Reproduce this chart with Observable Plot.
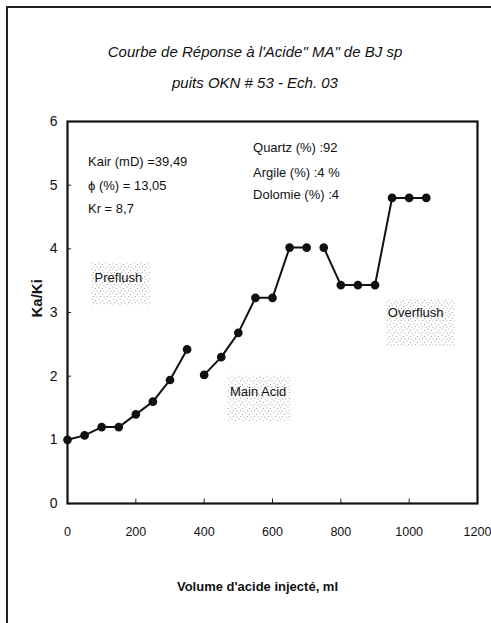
<!DOCTYPE html>
<html>
<head>
<meta charset="utf-8">
<script src="https://cdn.jsdelivr.net/npm/d3@7"></script>
<script src="https://cdn.jsdelivr.net/npm/@observablehq/plot@0.6"></script>
<style>
  html, body { margin: 0; padding: 0; background: #fff; overflow: hidden; }
  #page { position: relative; width: 491px; height: 623px; overflow: hidden; }
  #border { position: absolute; left: 6px; top: 6px; width: 520px; height: 660px; border: 2px solid #222; box-sizing: border-box; }
  #title { position: absolute; left: 0; top: 36px; width: 510px; text-align: center;
           font-family: "Liberation Sans", Arial, sans-serif;
           font-style: italic; font-size: 15px; line-height: 31px; color: #111; }
  #chart { position: absolute; left: 0; top: 100px; }
</style>
</head>
<body>
<div id="page">
  <div id="border"></div>
  <div id="title">Courbe de Réponse à l'Acide" MA" de BJ sp<br>puits OKN # 53 - Ech. 03</div>
  <div id="chart"></div>
</div>
<script>
// Data
const preflushVol = [0, 50, 100, 150, 200, 250, 300, 350];
const preflushKaKi = [1.0, 1.07, 1.2, 1.2, 1.4, 1.6, 1.94, 2.42];
const mainVol = [400, 450, 500, 550, 600, 650, 700];
const mainKaKi = [2.02, 2.3, 2.68, 3.23, 3.23, 4.02, 4.02];
const overVol = [750, 800, 850, 900, 950, 1000, 1050];
const overKaKi = [4.02, 3.43, 3.43, 3.43, 4.8, 4.8, 4.8];
const xTicks = [0, 200, 400, 600, 800, 1000, 1200];
const yTicks = [0, 1, 2, 3, 4, 5, 6];

const infoLeft = ["Kair (mD) =39,49", "\u03D5 (%) = 13,05", "Kr = 8,7"];
const infoLeftY = [5.36, 4.99, 4.63];
const infoRight = ["Quartz (%) :92", "Argile (%) :4 %", "Dolomie (%) :4"];
const infoRightY = [5.58, 5.2, 4.85];
const stages = ["Preflush", "Main Acid", "Overflush"];
const stageX = [149, 558, 1019];
const stageY = [3.54, 1.75, 2.99];
// stipple boxes [x1, x2, y1, y2] around stage labels
const boxX1 = [70, 470, 935];
const boxX2 = [242, 656, 1135];
const boxY1 = [3.11, 1.29, 2.46];
const boxY2 = [3.78, 2.0, 3.2];

const series = [
  ...preflushVol.map((v, i) => ({vol: v, k: preflushKaKi[i], s: "Preflush"})),
  ...mainVol.map((v, i) => ({vol: v, k: mainKaKi[i], s: "Main"})),
  ...overVol.map((v, i) => ({vol: v, k: overKaKi[i], s: "Over"}))
];
const boxes = stages.map((s, i) => ({x1: boxX1[i], x2: boxX2[i], y1: boxY1[i], y2: boxY2[i]}));

const sans = '"Liberation Sans", Arial, sans-serif';

const chart = Plot.plot({
  width: 491,
  height: 523,
  marginTop: 21,
  marginBottom: 120,
  marginLeft: 67,
  marginRight: 14,
  style: {fontFamily: sans, fontSize: "13px", color: "#111", background: "transparent"},
  x: {domain: [0, 1200], ticks: xTicks},
  y: {domain: [0, 6], ticks: yTicks},
  marks: [
    Plot.rect(boxes, {x1: "x1", x2: "x2", y1: "y1", y2: "y2", fill: "url(#stipple)"}),
    Plot.axisX(xTicks, {tickSize: 0, tickPadding: 24, fontSize: 12.5, label: null, tickFormat: d => String(d)}),
    Plot.axisY(yTicks, {tickSize: 0, tickPadding: 10, fontSize: 14, label: null, tickFormat: d => String(d)}),
    Plot.ruleX(xTicks.slice(1, -1), {y1: 0, y2: 0.07, stroke: "#222", strokeWidth: 1}),
    Plot.ruleY(yTicks.slice(1, -1), {x1: 0, x2: 12, stroke: "#222", strokeWidth: 1}),
    Plot.frame({stroke: "#111", strokeWidth: 2.2}),
    Plot.line(series, {x: "vol", y: "k", z: "s", stroke: "#111", strokeWidth: 2}),
    Plot.dot(series, {x: "vol", y: "k", r: 3.6, fill: "#111", stroke: "#111"}),
    Plot.text(infoLeft, {x: 60, y: (d, i) => infoLeftY[i], text: d => d, textAnchor: "start", fontSize: 13, fill: "#111"}),
    Plot.text(infoRight, {x: 543, y: (d, i) => infoRightY[i], text: d => d, textAnchor: "start", fontSize: 13, fill: "#111"}),
    Plot.text(stages, {x: (d, i) => stageX[i], y: (d, i) => stageY[i], text: d => d, fontSize: 13, fill: "#111"}),
    Plot.text(["Volume d'acide injecté, ml"], {frameAnchor: "bottom", dy: 87, dx: -15, text: d => d, fontSize: 13, fontWeight: "bold", fill: "#111"}),
    Plot.text(["Ka/Ki"], {frameAnchor: "left", dx: -30, dy: 5, rotate: -90, text: d => d, fontSize: 15, fontWeight: "bold", fill: "#111"})
  ]
});

// stipple pattern definition
const svg = d3.select(chart);
const defs = svg.insert("defs", ":first-child");
const pat = defs.append("pattern").attr("id", "stipple").attr("width", 7).attr("height", 6).attr("patternUnits", "userSpaceOnUse");
const dots = [[1, 1], [4.5, 2.5], [2.5, 4.5], [6, 5]];
dots.forEach(([cx, cy]) => pat.append("circle").attr("cx", cx).attr("cy", cy).attr("r", 0.6).attr("fill", "#999"));

document.getElementById("chart").appendChild(chart);
</script>
</body>
</html>
